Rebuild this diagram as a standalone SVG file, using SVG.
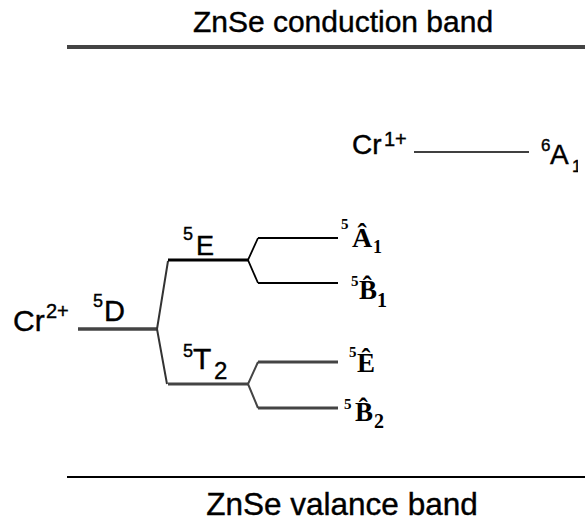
<svg xmlns="http://www.w3.org/2000/svg" width="585" height="526" viewBox="0 0 585 526">
<style>
.s{font-family:"Liberation Sans",Arial,sans-serif;fill:#000;stroke:#000;stroke-width:0.4}
.r{font-family:"Liberation Serif","DejaVu Serif",serif;font-weight:bold;fill:#000}
.k{stroke:#000;fill:none}
.g{stroke:#444;fill:none}
</style>
<defs><clipPath id="cl"><rect x="0" y="0" width="578" height="526"/></clipPath></defs>
<rect width="585" height="526" fill="#fff"/>
<g id="cb">
<line class="g" x1="67" y1="47" x2="585" y2="47" stroke-width="4"/>
<text class="s" x="343" y="32" font-size="30" text-anchor="middle">ZnSe conduction band</text>
</g>
<g id="vb">
<line class="k" x1="67" y1="477" x2="585" y2="477" stroke-width="2"/>
<text class="s" x="342" y="515" font-size="31.5" text-anchor="middle">ZnSe valance band</text>
</g>
<g id="cr1">
<text class="s" x="352" y="154" font-size="28">Cr</text>
<text class="s" x="384" y="146" font-size="20">1+</text>
<line class="k" x1="414" y1="152" x2="529" y2="152" stroke-width="1.5"/>
<text class="s" x="541" y="151" font-size="17">6</text>
<text class="s" x="550" y="164" font-size="28">A</text>
<text class="s" x="572" y="172" font-size="17" clip-path="url(#cl)">1</text>
</g>
<g id="cr2">
<text class="s" x="13" y="331" font-size="30">Cr</text>
<text class="s" x="46" y="318" font-size="20">2+</text>
<line class="g" x1="78" y1="329" x2="157" y2="329" stroke-width="3.5"/>
<text class="s" x="93" y="307" font-size="18">5</text>
<text class="s" x="104" y="321" font-size="29">D</text>
</g>
<g id="connectors">
<polyline points="168,261 157,329 167,384" fill="none" stroke="#333" stroke-width="2"/>
<polyline class="k" points="258,238 248,260 258,283" stroke-width="1.8"/>
<polyline class="g" points="258,362 248,384 258,408" stroke-width="2"/>
</g>
<g id="e">
<line class="k" x1="168" y1="260" x2="248" y2="260" stroke-width="3"/>
<text class="s" x="183" y="240" font-size="18">5</text>
<text class="s" x="196" y="255" font-size="27">E</text>
</g>
<g id="t2">
<line class="g" x1="168" y1="384" x2="248" y2="384" stroke-width="3"/>
<text class="s" x="183" y="357" font-size="18">5</text>
<text class="s" x="193" y="369" font-size="30">T</text>
<text class="s" x="214" y="379" font-size="24">2</text>
</g>
<g id="a1">
<line class="k" x1="258" y1="238" x2="338" y2="238" stroke-width="2"/>
<text class="r" x="341" y="229" font-size="15">5</text>
<text class="r" x="352" y="247" font-size="28">Â</text>
<text class="r" x="373" y="253" font-size="18">1</text>
</g>
<g id="b1">
<line class="k" x1="258" y1="283" x2="338" y2="283" stroke-width="2"/>
<text class="r" x="351" y="286" font-size="15">5</text>
<text class="r" x="359" y="299" font-size="27">B̂</text>
<text class="r" x="377" y="307" font-size="20">1</text>
</g>
<g id="e2">
<line class="g" x1="258" y1="362" x2="338" y2="362" stroke-width="3"/>
<text class="r" x="349" y="357" font-size="15">5</text>
<text class="r" x="357" y="372" font-size="27">Ê</text>
</g>
<g id="b2">
<line class="g" x1="258" y1="408" x2="338" y2="408" stroke-width="3"/>
<text class="r" x="344" y="409" font-size="15">5</text>
<text class="r" x="355" y="421" font-size="27">B̂</text>
<text class="r" x="374" y="428" font-size="20">2</text>
</g>
</svg>
